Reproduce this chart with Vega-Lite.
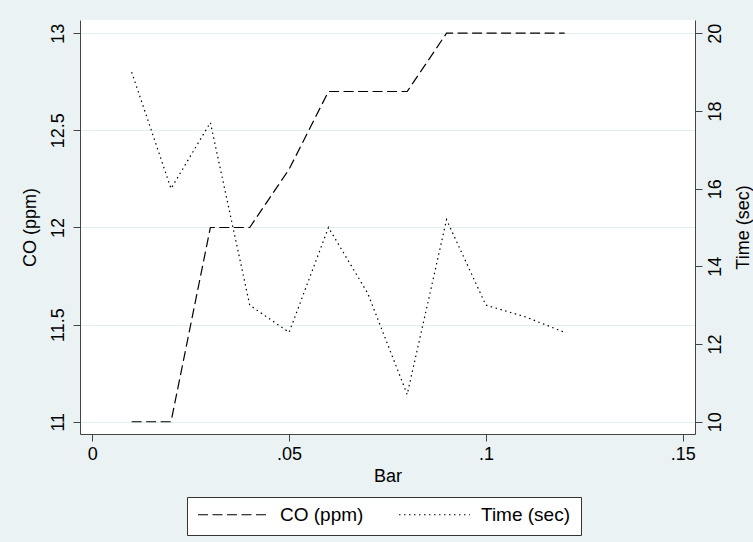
{
  "$schema": "https://vega.github.io/schema/vega-lite/v6.json",
  "autosize": "none",
  "width": 615,
  "height": 414,
  "padding": {"left": 80, "top": 20, "right": 58, "bottom": 108},
  "background": "#eaf2f3",
  "config": {
    "view": {"fill": "white", "stroke": null},
    "font": "Liberation Sans",
    "axis": {
      "domainColor": "#444",
      "tickColor": "#444",
      "tickSize": 7,
      "labelFontSize": 18,
      "titleFontSize": 18,
      "titleFontWeight": "normal",
      "labelColor": "black",
      "titleColor": "black",
      "gridColor": "#e3eef0",
      "gridWidth": 1
    }
  },
  "data": {
    "values": [
      {"bar": 0.01, "co": 11.0, "time": 19.0},
      {"bar": 0.02, "co": 11.0, "time": 16.0},
      {"bar": 0.03, "co": 12.0, "time": 17.7},
      {"bar": 0.04, "co": 12.0, "time": 13.0},
      {"bar": 0.05, "co": 12.3, "time": 12.3},
      {"bar": 0.06, "co": 12.7, "time": 15.0},
      {"bar": 0.07, "co": 12.7, "time": 13.3},
      {"bar": 0.08, "co": 12.7, "time": 10.7},
      {"bar": 0.09, "co": 13.0, "time": 15.2},
      {"bar": 0.10, "co": 13.0, "time": 13.0},
      {"bar": 0.11, "co": 13.0, "time": 12.7},
      {"bar": 0.12, "co": 13.0, "time": 12.3}
    ]
  },
  "encoding": {
    "x": {
      "field": "bar",
      "type": "quantitative",
      "scale": {"domain": [-0.003125, 0.153125], "nice": false, "zero": false},
      "axis": {
        "title": "Bar",
        "values": [0, 0.05, 0.1, 0.15],
        "labelExpr": "datum.value == 0 ? '0' : replace(format(datum.value, '.2~f'), '0.', '.')",
        "grid": false,
        "labelPadding": 4,
        "titlePadding": 4
      }
    }
  },
  "layer": [
    {
      "mark": {"type": "line", "color": "black", "strokeWidth": 1.2},
      "encoding": {
        "y": {
          "field": "co",
          "type": "quantitative",
          "scale": {"domain": [10.937, 13.068], "nice": false, "zero": false},
          "axis": {
            "title": "CO (ppm)",
            "orient": "left",
            "values": [11, 11.5, 12, 12.5, 13],
            "format": "~g",
            "labelAngle": -90,
            "labelAlign": "center",
            "labelBaseline": "bottom",
            "labelPadding": 6,
            "titlePadding": 10,
            "grid": true
          }
        },
        "strokeDash": {
          "datum": "CO (ppm)",
          "type": "nominal",
          "scale": {"domain": ["CO (ppm)", "Time (sec)"], "range": [[10, 4.5], [1.5, 3.5]]},
          "legend": {
            "title": null,
            "orient": "none",
            "legendX": 107,
            "legendY": 477,
            "direction": "horizontal",
            "fillColor": "white",
            "strokeColor": "#333",
            "padding": 10,
            "clipHeight": 15,
            "symbolType": "stroke",
            "symbolSize": 5041,
            "symbolStrokeColor": "black",
            "symbolStrokeWidth": 1.2,
            "labelFontSize": 19,
            "labelColor": "black",
            "labelOffset": 10,
            "columnPadding": 34,
            "labelLimit": 200
          }
        }
      }
    },
    {
      "mark": {"type": "line", "color": "black", "strokeWidth": 1.2},
      "encoding": {
        "y": {
          "field": "time",
          "type": "quantitative",
          "scale": {"domain": [9.683, 20.342], "nice": false, "zero": false},
          "axis": {
            "title": "Time (sec)",
            "orient": "right",
            "values": [10, 12, 14, 16, 18, 20],
            "labelAngle": -90,
            "labelAlign": "center",
            "labelBaseline": "top",
            "labelPadding": 4,
            "titleAngle": 270,
            "titleBaseline": "top",
            "titlePadding": 10,
            "grid": false
          }
        },
        "strokeDash": {"datum": "Time (sec)", "type": "nominal"}
      }
    }
  ],
  "resolve": {"scale": {"y": "independent"}}
}
